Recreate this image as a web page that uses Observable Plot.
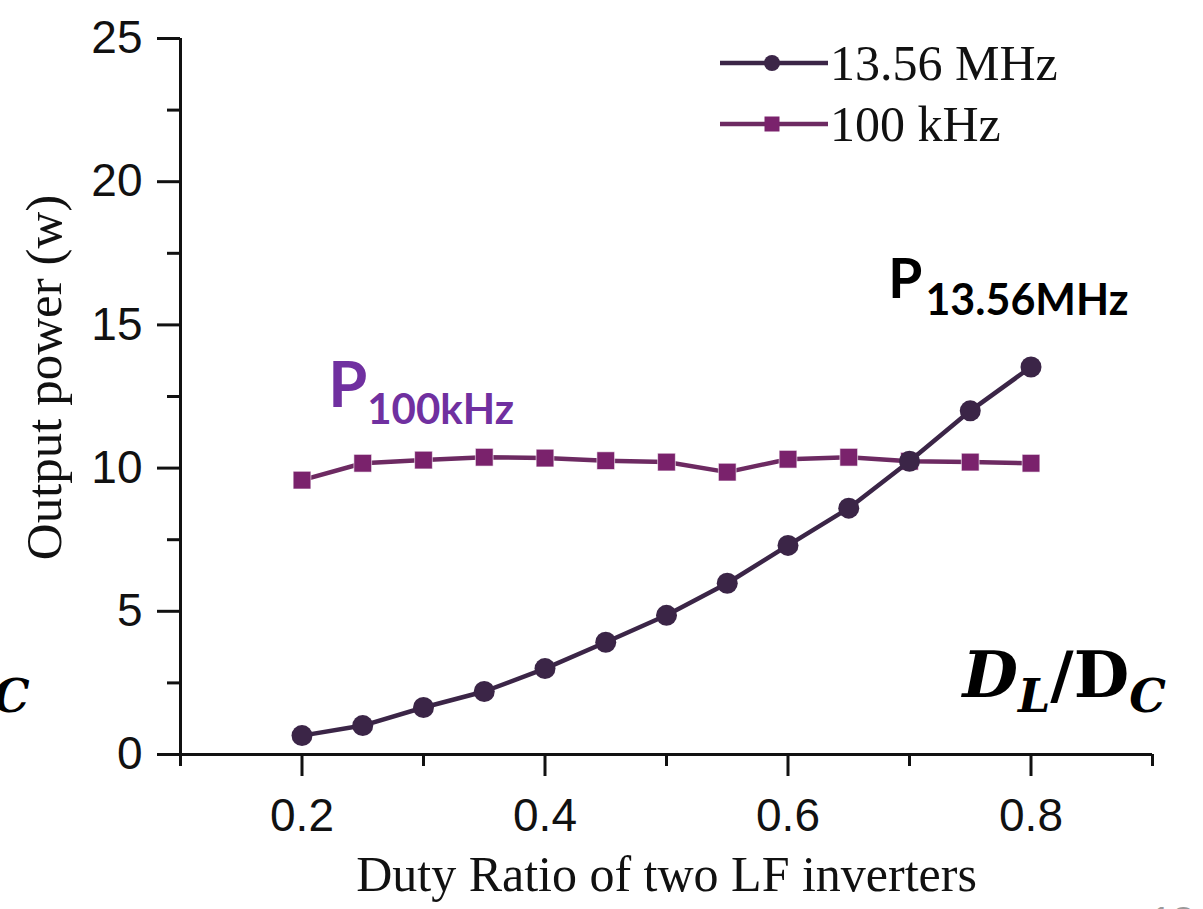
<!DOCTYPE html>
<html>
<head>
<meta charset="utf-8">
<script src="https://cdn.jsdelivr.net/npm/d3@7"></script>
<script src="https://cdn.jsdelivr.net/npm/@observablehq/plot@0.6"></script>
<style>
  html, body { margin: 0; padding: 0; background: #fff; overflow: hidden; }
  #chart svg { display: block; }
</style>
</head>
<body>
<div id="chart"></div>
<script>
// ---- data ----
const duty = [0.2, 0.25, 0.3, 0.35, 0.4, 0.45, 0.5, 0.55, 0.6, 0.65, 0.7, 0.75, 0.8];
const p13MHz = [0.66, 1.01, 1.64, 2.2, 3.0, 3.92, 4.86, 5.98, 7.3, 8.6, 10.24, 12.0, 13.53];
const p100kHz = [9.58, 10.17, 10.28, 10.38, 10.35, 10.26, 10.21, 9.86, 10.31, 10.38, 10.24, 10.21, 10.17];
const seriesNames = ["13.56 MHz", "100 kHz"];
const seriesSymbols = ["circle", "square"];
const markerColors = ["#3b2547", "#7a226c"];
const lineColors = ["#3b2547", "#6d2a62"];
const yTicks = [0, 5, 10, 15, 20, 25];
const yMinorTicks = [2.5, 7.5, 12.5, 17.5, 22.5];
const xTicks = [0.2, 0.4, 0.6, 0.8];
const xMinorTicks = [0.1, 0.3, 0.5, 0.7, 0.9];
const xLabel = "Duty Ratio of two LF inverters";
const yLabel = "Output power (w)";
const annotations = [
  {main: "P", sub: "13.56MHz", x: 0.683, y: 15.93, color: "#000000", size: 55, subSize: 43, dx: 3},
  {main: "P", sub: "100kHz", x: 0.222, y: 12.1, color: "#7030A0", size: 63, subSize: 42, dx: 0}
];

const rows = [];
duty.forEach((d, i) => {
  rows.push({duty: d, power: p13MHz[i], series: seriesNames[0]});
  rows.push({duty: d, power: p100kHz[i], series: seriesNames[1]});
});
const s13 = rows.filter(r => r.series === seriesNames[0]);
const s100 = rows.filter(r => r.series === seriesNames[1]);

const sans = "'Liberation Sans', Arial, sans-serif";
const serif = "'Liberation Serif', 'Times New Roman', serif";

const chart = Plot.plot({
  width: 1203,
  height: 909,
  marginLeft: 180,
  marginRight: 51,
  marginTop: 38,
  marginBottom: 155,
  x: {domain: [0.1, 0.9]},
  y: {domain: [0, 25]},
  style: {fontFamily: sans, background: "#fff", color: "#111"},
  marks: [
    Plot.axisY(yTicks, {tickSize: 23, tickPadding: 15, fontSize: 46, strokeWidth: 3, label: null, fontFamily: sans}),
    Plot.axisY(yMinorTicks, {tickSize: 13, text: null, strokeWidth: 3, label: null}),
    Plot.axisX(xTicks, {tickSize: 22, tickPadding: 22, fontSize: 46, strokeWidth: 3, label: null, tickFormat: d => d.toFixed(1), fontFamily: sans}),
    Plot.axisX(xMinorTicks, {tickSize: 12, text: null, strokeWidth: 3, label: null}),
    Plot.ruleY([0], {strokeWidth: 3}),
    Plot.ruleX([0.1], {strokeWidth: 3}),
    Plot.line(s100, {x: "duty", y: "power", stroke: lineColors[1], strokeWidth: 4.5}),
    Plot.dot(s100, {x: "duty", y: "power", symbol: seriesSymbols[1], r: 10, fill: markerColors[1], stroke: "#fff", strokeWidth: 0.6}),
    Plot.line(s13, {x: "duty", y: "power", stroke: lineColors[0], strokeWidth: 4.5}),
    Plot.dot(s13, {x: "duty", y: "power", symbol: seriesSymbols[0], r: 10.5, fill: markerColors[0]}),
    Plot.text([xLabel], {frameAnchor: "bottom", textAnchor: "middle", dy: 136, lineAnchor: "bottom", fontSize: 50, fontFamily: serif, fill: "#111"}),
    Plot.text([yLabel], {frameAnchor: "left", textAnchor: "middle", dx: -136, dy: -19, rotate: -90, fontSize: 51, fontFamily: serif, fill: "#111"})
  ]
});

document.getElementById("chart").appendChild(chart);

const sx = chart.scale("x");
const sy = chart.scale("y");
const svg = d3.select(chart);

// legend (top-right of frame)
const xRight = sx.apply(0.9);
const legend = svg.append("g").attr("transform", `translate(${xRight - 432},0)`);
seriesNames.forEach((name, i) => {
  const yy = 63 + i * 61;
  const g = legend.append("g").attr("transform", `translate(0,${yy})`);
  g.append("line").attr("x1", 0).attr("x2", 108).attr("y1", 0).attr("y2", 0)
    .attr("stroke", lineColors[i]).attr("stroke-width", 4.5);
  const sym = d3.symbol(i === 0 ? d3.symbolCircle : d3.symbolSquare, i === 0 ? 8 * 8 * Math.PI : 15 * 15);
  g.append("path").attr("d", sym()).attr("transform", "translate(52,0)").attr("fill", markerColors[i]);
  g.append("text").attr("x", 110).attr("y", 17).attr("text-anchor", "start").attr("font-family", serif)
    .attr("font-size", 50).attr("fill", "#111").text(name);
});

// P annotations
annotations.forEach(a => {
  const t = svg.append("text")
    .attr("x", sx.apply(a.x)).attr("y", sy.apply(a.y)).attr("text-anchor", "start")
    .attr("font-family", "Lato, 'Open Sans', sans-serif").attr("font-weight", 700)
    .attr("fill", a.color);
  t.append("tspan").attr("font-size", a.size).text(a.main);
  t.append("tspan").attr("font-size", a.subSize).attr("dx", a.dx).attr("dy", 17).text(a.sub);
});

// D_L / D_C annotation (right) and the clipped "C" at left
const mathFont = "'DejaVu Serif', 'Liberation Serif', serif";
const dl = svg.append("text")
  .attr("x", sx.apply(0.744)).attr("y", sy.apply(2.0)).attr("text-anchor", "start")
  .attr("font-family", mathFont).attr("font-weight", 700).attr("fill", "#000");
dl.append("tspan").attr("font-style", "italic").attr("font-size", 64).text("D");
dl.append("tspan").attr("font-style", "italic").attr("font-size", 46).attr("dy", 15).text("L");
dl.append("tspan").attr("font-size", 64).attr("dy", -15).text("/D");
dl.append("tspan").attr("font-style", "italic").attr("font-size", 46).attr("dy", 15).text("C");

svg.append("text")
  .attr("x", sx.apply(-0.054)).attr("y", sy.apply(1.45)).attr("text-anchor", "start")
  .attr("font-family", mathFont).attr("font-weight", 700).attr("font-style", "italic")
  .attr("font-size", 46).attr("fill", "#000").text("C");

// clipped page number at bottom-right
svg.append("text")
  .attr("x", 1150).attr("y", 935).attr("text-anchor", "start")
  .attr("font-family", sans).attr("font-size", 40).attr("fill", "#9a9a9a").text("13");
</script>
</body>
</html>
